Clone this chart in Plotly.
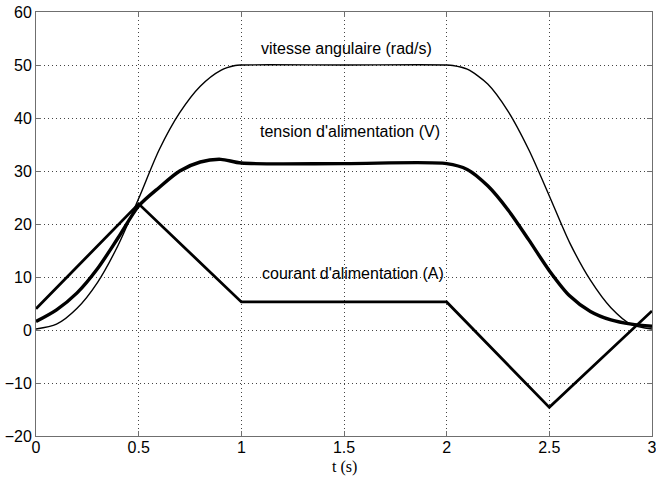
import plotly.graph_objects as go

# time samples (s)
t_speed = [0.0, 0.1, 0.2, 0.3, 0.4, 0.5, 0.6, 0.7, 0.8, 0.9, 0.97, 1.0, 1.5, 2.0, 2.03,
           2.1, 2.2, 2.3, 2.4, 2.5, 2.6, 2.7, 2.8, 2.9, 3.0]
speed = [0.2, 1.1, 4.1, 9.0, 16.0, 24.8, 34.0, 41.0, 46.0, 49.0, 49.9, 50.0, 50.0, 50.0, 49.9,
         49.2, 46.4, 41.2, 34.0, 25.3, 16.4, 9.4, 4.2, 1.0, 0.2]

t_volt = [0.0, 0.1, 0.2, 0.3, 0.4, 0.5, 0.6, 0.7, 0.8, 0.9, 1.0, 1.5, 2.0,
          2.1, 2.2, 2.3, 2.4, 2.5, 2.6, 2.7, 2.8, 2.9, 3.0]
volt = [1.6, 3.8, 7.0, 11.6, 17.4, 23.4, 26.9, 30.0, 31.7, 32.2, 31.5, 31.4, 31.4,
        30.3, 27.2, 22.6, 17.0, 11.2, 6.4, 3.5, 1.9, 1.1, 0.7]

t_curr = [0.0, 0.5, 1.0, 2.0, 2.5, 3.0]
curr = [4.0, 23.8, 5.3, 5.3, -14.6, 3.6]

labels = ["vitesse angulaire (rad/s)", "tension d'alimentation (V)", "courant d'alimentation (A)"]
label_t = [1.51, 1.53, 1.545]
label_v = [53.2, 37.4, 10.7]

x_ticks = [0, 0.5, 1, 1.5, 2, 2.5, 3]
x_ticktext = ["0", "0.5", "1", "1.5", "2", "2.5", "3"]
y_ticks = [-20, -10, 0, 10, 20, 30, 40, 50, 60]

fig = go.Figure()
fig.add_trace(go.Scatter(x=t_speed, y=speed, mode="lines",
                         line=dict(color="black", width=1.4, shape="spline", smoothing=0.8)))
fig.add_trace(go.Scatter(x=t_volt, y=volt, mode="lines",
                         line=dict(color="black", width=3.4, shape="spline", smoothing=0.8)))
fig.add_trace(go.Scatter(x=t_curr, y=curr, mode="lines",
                         line=dict(color="black", width=2.8)))

for txt, tx, vy in zip(labels, label_t, label_v):
    fig.add_annotation(x=tx, y=vy, text=txt, showarrow=False,
                       font=dict(family="Liberation Sans", size=16, color="black"),
                       xanchor="center", yanchor="middle")

fig.add_annotation(x=0.5, xref="paper", y=0, yref="paper", yshift=-31, text="t (s)",
                   showarrow=False, xanchor="center", yanchor="middle",
                   font=dict(family="Liberation Serif", size=16, color="black"))

axis_common = dict(showgrid=True, gridcolor="#444444", griddash="1px,3px", gridwidth=1,
                   showline=True, linecolor="#6f6f6f", linewidth=1, mirror="ticks",
                   ticks="inside", ticklen=5, tickcolor="#6f6f6f", zeroline=False,
                   automargin=False, ticklabeloverflow="allow",
                   tickfont=dict(family="Liberation Sans", size=16, color="black"))

fig.update_xaxes(range=[0, 3], tickvals=x_ticks, ticktext=x_ticktext,
                 ticklabelstandoff=-3, **axis_common)
fig.update_yaxes(range=[-20, 60], tickvals=y_ticks, **axis_common)

fig.update_layout(width=656, height=483, showlegend=False,
                  margin=dict(l=36, r=4, t=12, b=47),
                  paper_bgcolor="white", plot_bgcolor="white")

fig.write_html("out.html", config={"displayModeBar": False},
               post_script="document.body.style.margin='0';document.body.style.padding='0';"
                           "document.body.style.overflow='hidden';")
